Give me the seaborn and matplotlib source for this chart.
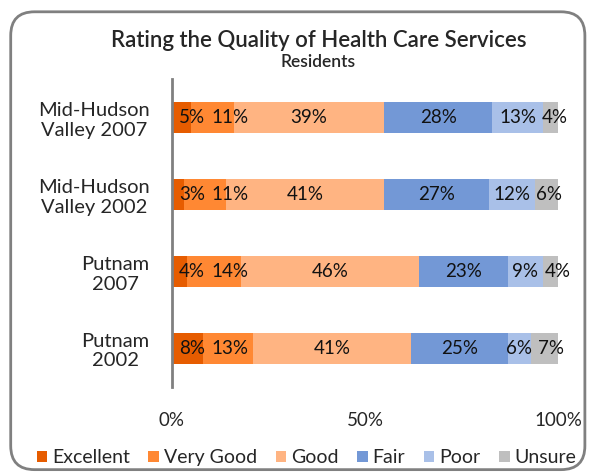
import matplotlib
matplotlib.use("Agg")
import matplotlib.pyplot as plt
import numpy as np
import pandas as pd
import seaborn as sns
from matplotlib.patches import FancyBboxPatch, Patch

# Data
groups = ["Mid-Hudson\nValley 2007", "Mid-Hudson\nValley 2002", "Putnam\n2007", "Putnam\n2002"]
ratings = ["Excellent", "Very Good", "Good", "Fair", "Poor", "Unsure"]
excellent = [5, 3, 4, 8]
very_good = [11, 11, 14, 13]
good = [39, 41, 46, 41]
fair = [28, 27, 23, 25]
poor = [13, 12, 9, 6]
unsure = [4, 6, 4, 7]
colors = ["#E65C00", "#FF8833", "#FFB482", "#7398D6", "#A9C0E8", "#BFBFBF"]

df = pd.DataFrame({"group": groups, "Excellent": excellent, "Very Good": very_good,
                   "Good": good, "Fair": fair, "Poor": poor, "Unsure": unsure})
cum = df[ratings].cumsum(axis=1)

sns.set_style("white")
plt.rcParams["font.family"] = ["Lato", "DejaVu Sans"]

fig = plt.figure(figsize=(5.95, 4.72), dpi=100)
ax = fig.add_axes([0.289, 0.181, 0.649, 0.651])

# Draw from the longest cumulative bar down so the segments stack
for rating, color in reversed(list(zip(ratings, colors))):
    sns.barplot(x=cum[rating], y=df["group"], color=color, orient="h",
                width=0.4, ax=ax, saturation=1, linewidth=0, edgecolor="none")

ax.set_xlim(0, 100)
ax.set_ylim(3.5, -0.5)

labels = []
for i in range(len(groups)):
    row = []
    for rating in ratings:
        val = df.loc[i, rating]
        center = cum.loc[i, rating] - val / 2
        row.append(ax.text(center, i, f"{val}%", ha="center", va="center",
                           fontsize=13.5, color="#111111"))
    labels.append(row)

ax.set_xticks([0, 50, 100])
ax.set_xticklabels(["0%", "50%", "100%"], fontsize=13.5)
ax.set_xlabel("")
ax.set_ylabel("")
ax.tick_params(axis="x", length=0, pad=18)
ax.tick_params(axis="y", length=0, pad=16)
for lab in ax.get_yticklabels():
    lab.set_fontsize(14.5)
    lab.set_multialignment("center")
for side in ["top", "right", "bottom"]:
    ax.spines[side].set_visible(False)
ax.spines["left"].set_color("#808080")
ax.spines["left"].set_linewidth(2)

# nudge small-segment labels apart so they don't overlap (like Excel does)
fig.canvas.draw()
renderer = fig.canvas.get_renderer()
px_per_unit = ax.transData.transform((1, 0))[0] - ax.transData.transform((0, 0))[0]
x0_px = ax.transData.transform((0, 0))[0]
for row in labels:
    prev_right = x0_px + 1
    for t in row:
        bb = t.get_window_extent(renderer)
        shift = max(0, prev_right + 6 - bb.x0)
        if shift > 0:
            x, y = t.get_position()
            t.set_position((x + shift / px_per_unit, y))
        prev_right = bb.x1 + shift

fig.text(0.535, 0.915, "Rating the Quality of Health Care Services", ha="center",
         va="center", fontsize=16, fontweight="semibold")
fig.text(0.535, 0.868, "Residents", ha="center", va="center", fontsize=12.5,
         fontweight="semibold")

handles = [Patch(facecolor=c, edgecolor="none") for c in colors]
fig.legend(handles, ratings, loc="center", bbox_to_anchor=(0.515, 0.03), ncol=6,
           frameon=False, fontsize=14, handlelength=0.55, handleheight=0.55,
           handletextpad=0.25, columnspacing=0.95)

border = FancyBboxPatch((0.018, 0.005), 0.965, 0.97, boxstyle="round,pad=0,rounding_size=0.04",
                        transform=fig.transFigure, facecolor="none", edgecolor="#808080",
                        linewidth=2, mutation_aspect=595 / 472)
fig.patches.append(border)

fig.savefig("out.png", dpi=100)
